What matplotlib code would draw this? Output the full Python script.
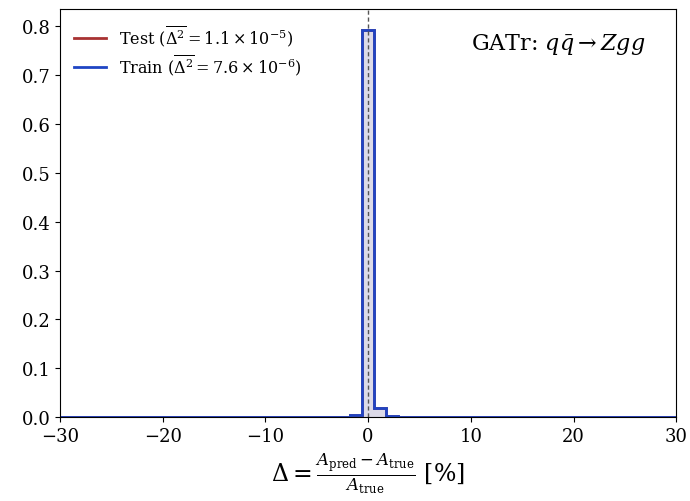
import numpy as np
import matplotlib
matplotlib.use("Agg")
import matplotlib.pyplot as plt

plt.rcParams['font.family'] = ['DejaVu Serif']
plt.rcParams['mathtext.fontset'] = 'dejavuserif'

# histogram binning (51 bins between -30 and 30 %, centre bin around 0)
bin_lo, bin_hi, n_bins = -30, 30, 51
# non-empty bins: index and normalised height
nonzero_idx = [24, 25, 26, 27]
test_vals = [0.005, 0.793, 0.018, 0.002]
train_vals = [0.005, 0.793, 0.018, 0.002]

test_label = r"Test ($\overline{\Delta^2} = 1.1 \times 10^{-5}$)"
train_label = r"Train ($\overline{\Delta^2} = 7.6 \times 10^{-6}$)"

edges = np.linspace(bin_lo, bin_hi, n_bins + 1)
test = np.zeros(n_bins)
train = np.zeros(n_bins)
test[nonzero_idx] = test_vals
train[nonzero_idx] = train_vals

fig = plt.figure(figsize=(6.9, 5.02), dpi=100)
ax = fig.add_axes([0.087, 0.167, 0.893, 0.813])

ax.stairs(test, edges, fill=True, color='#d9d6e6', alpha=0.9)
ax.stairs(test, edges, color='#a83232', lw=2, label=test_label)
ax.stairs(train, edges, color='#1f45c4', lw=2, label=train_label)
ax.axvline(0, color='#555555', ls=(0, (3, 2)), lw=1, zorder=2.5)

ax.set_xlim(-30, 30)
ax.set_ylim(0, 0.835)
ax.set_yticks(np.arange(0, 0.81, 0.1))
ax.tick_params(labelsize=13)

ax.set_xlabel(r"$\Delta = \frac{A_\mathrm{pred} - A_\mathrm{true}}{A_\mathrm{true}}$ [%]", fontsize=17)
ax.legend(loc='upper left', frameon=False, fontsize=11.5, labelspacing=0.25)
ax.text(0.95, 0.915, r"GATr: $q\bar{q} \to Zgg$", transform=ax.transAxes,
        ha='right', va='center', fontsize=16)

fig.savefig("out.png", dpi=100)
